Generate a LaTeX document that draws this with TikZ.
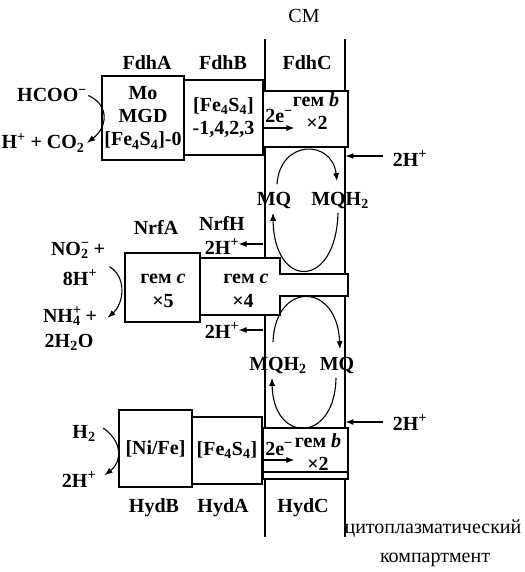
\documentclass[tikz,border=0pt]{standalone}
\usepackage{fontspec}
\setmainfont{Liberation Serif}
\usetikzlibrary{arrows.meta}
\tikzset{
  box/.style={draw,fill=white,inner sep=0pt,align=center,font=\fontsize{20}{23}\selectfont\bfseries},
  lbl/.style={inner sep=0pt,anchor=base,font=\fontsize{20}{23}\selectfont\bfseries},
  note/.style={inner sep=0pt,anchor=base,font=\fontsize{20}{23}\selectfont},
  memline/.style={line width=1.3pt},
}
\begin{document}
\begin{tikzpicture}[x=1pt,y=-1pt,>={Latex[length=8pt,width=6pt]},line width=1.1pt]
\useasboundingbox (0,0) rectangle (524,572);
% membrane
\coordinate (memLt) at (265,39);
\coordinate (memLb) at (265,537);
\coordinate (memRt) at (345,39);
\coordinate (memRb) at (345,537);
\draw[memline] (memLt)--(memLb);
\draw[memline] (memRt)--(memRb);
\node[note] (cm) at (304,23) {СМ};
\node[note] (cyt1) at (433,533) {цитоплазматический};
\node[note] (cyt2) at (435,562) {компартмент};
% Fdh
\node[lbl] (fdhAl) at (147,70) {FdhA};
\node[lbl] (fdhBl) at (223,70) {FdhB};
\node[lbl] (fdhCl) at (307,70) {FdhC};
\node[box,minimum width=82pt,minimum height=84pt] (fdhA) at (143,118) {Mo\\MGD\\{[}Fe\textsubscript{4}S\textsubscript{4}{]}-0};
\node[box,minimum width=79pt,minimum height=75pt] (fdhB) at (223.5,117.5) {{[}Fe\textsubscript{4}S\textsubscript{4}{]}\\-1,4,2,3};
\node[box,minimum width=85pt,minimum height=56pt] (fdhC) at (305.5,119) {};
\node[lbl] (e1) at (279,123) {2e\textsuperscript{−}};
\node[lbl] (hemb1) at (316,107) {гем \textit{b}};
\node[lbl] (x2a) at (317,130) {×2};
\draw[->] ([shift={(0,9)}]fdhC.west) -- ++(32,0);
\node[lbl] (hcoo) at (52,102) {HCOO\textsuperscript{−}};
\node[lbl] (hco2) at (43,149) {H\textsuperscript{+} + CO\textsubscript{2}};
\draw[->] ([shift={(1,0)}]hcoo.east) .. controls +(22,10) and +(20,-15) .. ([shift={(2,0)}]hco2.east);
\node[lbl] (hr1) at (410,166) {2H\textsuperscript{+}};
\draw[->] ([shift={(-9,-10)}]hr1.base west) -- ++(-38,0);
% quinone cycle
\node[lbl] (mq1) at (274,205) {MQ};
\node[lbl] (mqh1) at (340,205) {MQH\textsubscript{2}};
\draw[->] ([shift={(3,-7)}]mq1.north) .. controls +(3,-45) and +(-5,-42) .. ([shift={(-3,-10)}]mqh1.north);
\draw[->] ([shift={(-2,4)}]mqh1.south) .. controls +(-2,77) and +(1,77) .. ([shift={(-1,4)}]mq1.south);
% Nrf
\node[lbl] (nrfAl) at (156,234) {NrfA};
\node[lbl] (nrfHl) at (222,230) {NrfH};
\draw[box] (200,258) -- (280,258) -- (280,274) -- (348,274) -- (348,296) -- (280,296) -- (280,315) -- (200,315) -- cycle;
\node[box,minimum width=75pt,minimum height=69pt] (nrfA) at (162.5,287.5) {};
\node[lbl] (hemc1) at (163,283) {гем \textit{c}};
\node[lbl] (x5) at (163,307) {×5};
\node[lbl] (hemc2) at (246,283) {гем \textit{c}};
\node[lbl] (x4) at (243,307) {×4};
\node[lbl] (hn1) at (222,254) {2H\textsuperscript{+}};
\node[lbl] (hn2) at (222,338) {2H\textsuperscript{+}};
\draw[->] ([shift={(23,-10)}]hn1.base east) -- ++(-24,0);
\draw[->] ([shift={(23,-8)}]hn2.base east) -- ++(-24,0);
\node[lbl] (no2) at (78,255) {NO\rlap{\textsuperscript{−}}\textsubscript{2} +};
\node[lbl] (h8) at (80,285) {8H\textsuperscript{+}};
\node[lbl] (nh4) at (70,322) {NH\rlap{\textsuperscript{+}}\textsubscript{4} +};
\node[lbl] (h2o) at (69,347) {2H\textsubscript{2}O};
\draw[->] ([shift={(4,8)}]no2.south east) .. controls +(18,11) and +(16,-14) .. ([shift={(10,2)}]nh4.east);
\node[lbl] (mqh2) at (278,370) {MQH\textsubscript{2}};
\node[lbl] (mq2) at (337,370) {MQ};
\draw[->] ([shift={(-5,-14)}]mqh2.north) .. controls +(2,-61) and +(-3,-68) .. ([shift={(3,-7)}]mq2.north);
\draw[->] ([shift={(-1,4)}]mq2.south) .. controls +(-1,66) and +(1,66) .. ([shift={(-6,4)}]mqh2.south);
% Hyd
\node[box,minimum width=73pt,minimum height=77pt] (hydB) at (155.5,448.5) {{[}Ni/Fe{]}};
\node[box,minimum width=70pt,minimum height=67pt] (hydA) at (227,450.5) {{[}Fe\textsubscript{4}S\textsubscript{4}{]}};
\draw[box] (263,472) rectangle (348,479);
\node[box,minimum width=85pt,minimum height=44pt] (hydC) at (305.5,450) {};
\node[lbl] (e2) at (279,455) {2e\textsuperscript{−}};
\node[lbl] (hemb2) at (318,447) {гем \textit{b}};
\node[lbl] (x2b) at (318,470) {×2};
\draw[->] ([shift={(0,10)}]hydC.west) -- ++(32,0);
\node[lbl] (hr2) at (410,430) {2H\textsuperscript{+}};
\draw[->] ([shift={(-9,-8)}]hr2.base west) -- ++(-38,0);
\node[lbl] (h2) at (84,438) {H\textsubscript{2}};
\node[lbl] (h2p) at (79,487) {2H\textsuperscript{+}};
\draw[->] ([shift={(7,-5)}]h2.east) .. controls +(18,12) and +(19,-15) .. ([shift={(8,-4)}]h2p.east);
\node[lbl] (hydBl) at (154,512) {HydB};
\node[lbl] (hydAl) at (223,512) {HydA};
\node[lbl] (hydCl) at (303,512) {HydC};
\end{tikzpicture}
\end{document}
